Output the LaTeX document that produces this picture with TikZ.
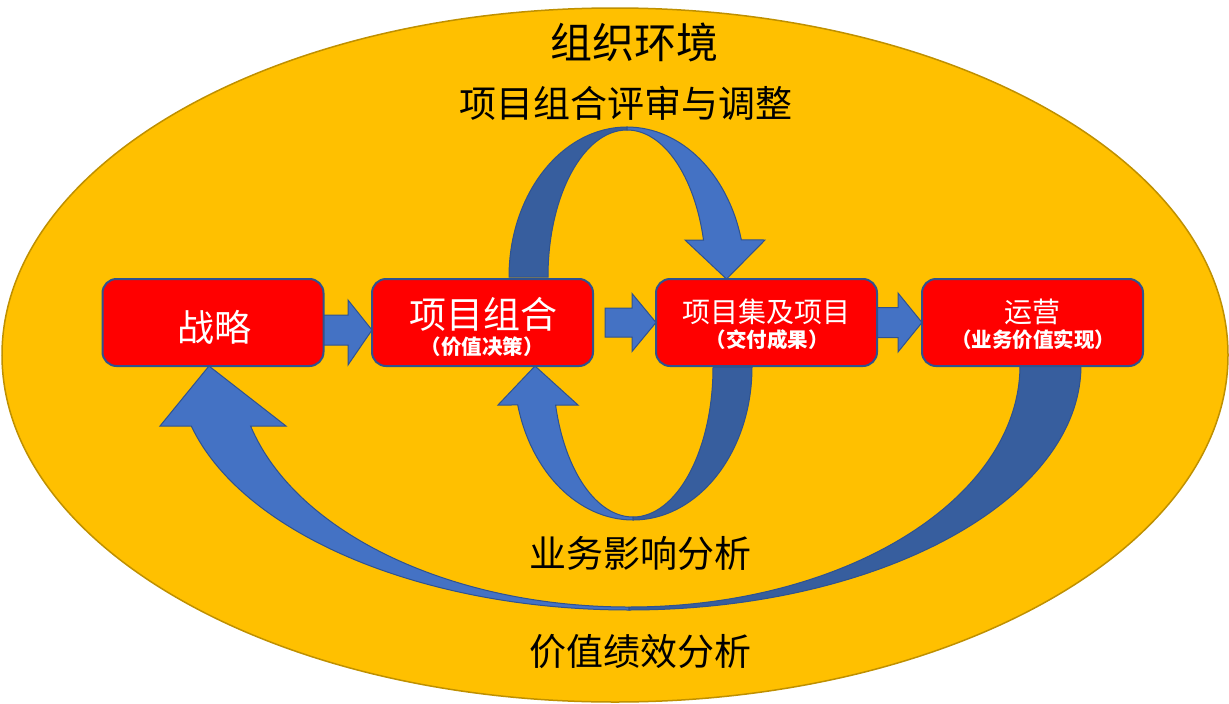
\documentclass[tikz,border=0pt]{standalone}
\usepackage{fontspec}
\newfontfamily\cjk{Noto Sans CJK SC}
\usetikzlibrary{calc}
\definecolor{gold}{HTML}{FFC000}
\definecolor{goldline}{HTML}{BF9000}
\definecolor{boxred}{HTML}{FF0000}
\definecolor{navy}{HTML}{2F528F}
\definecolor{lightblue}{HTML}{4472C4}
\definecolor{darkblue}{HTML}{375E9E}
\pgfdeclarelayer{back}
\pgfdeclarelayer{mid}
\pgfsetlayers{back,mid,main}
\begin{document}
\begin{tikzpicture}[x=1pt,y=-1pt,
  box/.style={draw=navy, line width=2pt, fill=boxred, rounded corners=14pt,
    minimum width=221pt, minimum height=87pt, inner sep=0pt, outer sep=0pt},
  blk/.style={draw=navy, line width=1pt, fill=lightblue, line join=miter},
  frontband/.style={draw=navy, line width=1pt, fill=lightblue, line join=miter},
  backband/.style={draw=navy, line width=1pt, fill=darkblue},
  lbl/.style={font={\cjk\fontsize{37}{40}\selectfont}, text=black, inner sep=0pt},
  lblbig/.style={font={\cjk\fontsize{42}{44}\selectfont}, text=black, inner sep=0pt},
  titlebig/.style={font={\cjk\fontsize{37}{40}\selectfont}, text=white, inner sep=0pt},
  titlemid/.style={font={\cjk\fontsize{28}{30}\selectfont}, text=white, inner sep=0pt},
  subttl/.style={font={\cjk\bfseries\fontsize{20.5}{22}\selectfont}, text=white, inner sep=0pt},
  envshape/.style={fill=gold, draw=goldline, line width=1.5pt}
]
\useasboundingbox (0,0) rectangle (1229,704);

% boxes
\node[box] (b1) at (213,322.5) {};
\node[box] (b2) at (482.5,322.5) {};
\node[box] (b3) at (766.5,322.5) {};
\node[box] (b4) at (1032.5,322.5) {};

% box texts
\node[titlebig] (t1) at (214,327) {战略};
\node[titlebig] (t2) at (483,314) {项目组合};
\node[subttl] (s2) at (482,347) {（价值决策）};
\node[titlemid] (t3) at (766,312) {项目集及项目};
\node[subttl] (s3) at (767,340) {（交付成果）};
\node[titlemid] (t4) at (1032,312) {运营};
\node[subttl] (s4) at (1033,340) {（业务价值实现）};

% labels
\node[lblbig] (env) at (634,42) {组织环境};
\node[lbl] (rev) at (626,103) {项目组合评审与调整};
\node[lbl] (bia) at (640,553) {业务影响分析};
\node[lbl] (vpa) at (640,652) {价值绩效分析};

% centres of the curved arrows and their tips
\coordinate (cT) at ($(b2.north)!0.5!(b3.north)+(2.5,-2)$);
\coordinate (cM) at ($(b2.south)!0.5!(b3.south)+(8.5,1)$);
\coordinate (cB) at ($(b1.south)!0.5!(b4.south)+(6.25,-1)$);
\coordinate (tipT) at ($(b3.north)+(-40,0)$);
\coordinate (tipM) at ($(b2.south)+(52.5,0)$);
\coordinate (tipB) at ($(b1.south)+(-4,0)$);

\begin{pgfonlayer}{back}
\path[envshape] (615,355) ellipse[x radius=613pt, y radius=347pt];
\end{pgfonlayer}

\begin{pgfonlayer}{mid}
% straight block arrows
\draw[blk] ($(b2.west)+(0,7.5)$) -- ++(-24,-30) -- ++(0,15) -- ++(-26,0)
  -- ++(0,30) -- ++(26,0) -- ++(0,20) -- cycle;
\draw[blk] (b3.west) -- ++(-24,-29) -- ++(0,14.5) -- ++(-27,0)
  -- ++(0,29) -- ++(27,0) -- ++(0,14.5) -- cycle;
\draw[blk] (b4.west) -- ++(-24,-29.5) -- ++(0,14.5) -- ++(-23,0)
  -- ++(0,30) -- ++(23,0) -- ++(0,14.5) -- cycle;

% top curved arrow: project portfolio review
\draw[backband] ($(cT)+(-118,0)$) arc[start angle=180, end angle=90, x radius=118pt, y radius=150pt]
  -- ($(cT)+(0,-147)$) arc[start angle=90, end angle=180, x radius=79pt, y radius=147pt] -- cycle;
\draw[frontband] ($(cT)+(0,-150)$) arc[start angle=90, end angle=14.3, x radius=118pt, y radius=150pt]
  -- ($(cT)+(138,-37)$) -- (tipT) -- ($(cT)+(58,-37)$) -- ($(cT)+(76.5,-37)$)
  arc[start angle=14.58, end angle=90, x radius=79pt, y radius=147pt] -- cycle;

% middle curved arrow: business impact analysis
\draw[backband] ($(cM)+(119,0)$) arc[start angle=0, end angle=-90, x radius=119pt, y radius=153pt]
  -- ($(cM)+(0,150)$) arc[start angle=-90, end angle=0, x radius=80pt, y radius=150pt] -- cycle;
\draw[frontband] ($(cM)+(0,153)$) arc[start angle=270, end angle=194.38, x radius=119pt, y radius=153pt]
  -- ($(cM)+(-135,38)$) -- (tipM) -- ($(cM)+(-55,38)$) -- ($(cM)+(-77.4,38)$)
  arc[start angle=194.68, end angle=270, x radius=80pt, y radius=150pt] -- cycle;

% big curved arrow: value performance analysis
\draw[backband] ($(cB)+(452,0)$) arc[start angle=0, end angle=-90, x radius=452pt, y radius=245pt]
  -- ($(cB)+(0,242)$) arc[start angle=-90, end angle=0, x radius=391pt, y radius=242pt] -- cycle;
\draw[frontband] ($(cB)+(0,245)$) arc[start angle=270, end angle=194.42, x radius=452pt, y radius=245pt]
  -- ($(cB)+(-469,61)$) -- (tipB) -- ($(cB)+(-343,61)$) -- ($(cB)+(-378.4,61)$)
  arc[start angle=194.6, end angle=270, x radius=391pt, y radius=242pt] -- cycle;
\end{pgfonlayer}
\end{tikzpicture}
\end{document}
